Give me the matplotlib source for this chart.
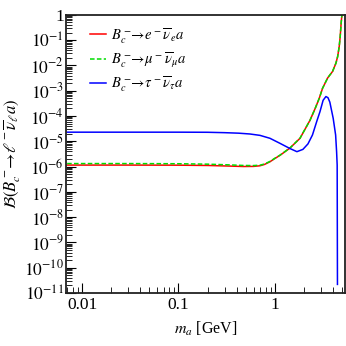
import numpy as np
import matplotlib
matplotlib.use("Agg")
import matplotlib.pyplot as plt
from matplotlib.ticker import FixedLocator, FuncFormatter, LogLocator, NullFormatter

plt.rcParams['font.family'] = ['Liberation Serif', 'DejaVu Serif']
plt.rcParams['mathtext.fontset'] = 'stix'

# m_a [GeV]
x_e = [0.007, 0.01, 0.03, 0.1, 0.2, 0.34, 0.47, 0.6, 0.70, 0.78, 0.887, 1.0, 1.13, 1.43, 1.82,
       2.31, 2.6, 2.88, 3.12, 3.52, 3.96, 4.29, 4.47, 4.64, 4.75, 4.86, 4.95, 5.0]
y_e = [1.15e-6, 1.15e-6, 1.15e-6, 1.14e-6, 1.11e-6, 1.05e-6, 1.01e-6, 1.02e-6, 1.08e-6,
       1.22e-6, 1.55e-6, 2.1e-6, 2.8e-6, 5.4e-6, 1.32e-5, 6.8e-5, 1.9e-4, 5.0e-4, 1.26e-3,
       3.2e-3, 5.8e-3, 1.23e-2, 2.24e-2, 5.6e-2, 1.38e-1, 4.7e-1, 1.0, 1.6]
x_mu = x_e
y_mu = [1.32e-6, 1.32e-6, 1.32e-6, 1.3e-6, 1.25e-6, 1.17e-6, 1.11e-6, 1.1e-6, 1.14e-6,
        1.27e-6, 1.6e-6, 2.15e-6, 2.85e-6, 5.45e-6, 1.33e-5, 6.8e-5, 1.9e-4, 5.0e-4, 1.26e-3,
        3.2e-3, 5.8e-3, 1.23e-2, 2.24e-2, 5.6e-2, 1.38e-1, 4.7e-1, 1.0, 1.6]
x_tau = [0.007, 0.01, 0.03, 0.1, 0.2, 0.3, 0.42, 0.55, 0.70, 0.887, 1.13, 1.43, 1.69, 1.95,
         2.2, 2.45, 2.72, 2.93, 3.16, 3.38, 3.55, 3.71, 4.02, 4.26, 4.36, 4.42, 4.45]
y_tau = [2.3e-5, 2.3e-5, 2.3e-5, 2.3e-5, 2.28e-5, 2.2e-5, 2.1e-5, 1.95e-5, 1.72e-5, 1.32e-5,
         8.3e-6, 5.2e-6, 3.9e-6, 4.8e-6, 7.9e-6, 1.78e-5, 6.3e-5, 1.48e-4, 4.2e-4, 5.9e-4,
         5.3e-4, 3.55e-4, 8.1e-5, 1.78e-5, 3.9e-6, 1.15e-6, 2.2e-11]

labels = [r'$B_c^-\!\!\to\! e^-\overline{\nu}_e a$',
          r'$B_c^-\!\!\to\!\mu^-\overline{\nu}_\mu a$',
          r'$B_c^-\!\!\to\!\tau^-\overline{\nu}_\tau a$']

fig = plt.figure(figsize=(3.46, 3.46), dpi=100)
ax = fig.add_axes([0.191, 0.153, 0.805, 0.804])

ax.plot(x_e, y_e, color='#ff0000', lw=1.1, label=labels[0])
ax.plot(x_mu, y_mu, color='#00dd00', lw=1.1, ls=(0, (3, 1.5)), label=labels[1])
ax.plot(x_tau, y_tau, color='#0000ff', lw=1.1, label=labels[2])

ax.set_xscale('log')
ax.set_yscale('log')
ax.set_xlim(0.00683, 5.28)
ax.set_ylim(1e-11, 1)

ax.xaxis.set_major_locator(FixedLocator([0.01, 0.1, 1]))
ax.xaxis.set_major_formatter(FuncFormatter(lambda v, p: {0.01: '0.01', 0.1: '0.1', 1: '1'}.get(round(v, 2), '')))
ax.xaxis.set_minor_locator(LogLocator(base=10, subs=np.arange(2, 10)))
ax.xaxis.set_minor_formatter(NullFormatter())

yt = [10.0**k for k in range(-11, 1)]
ax.yaxis.set_major_locator(FixedLocator(yt))
def yfmt(v, p):
    k = int(round(np.log10(v)))
    return '1' if k == 0 else r'$10^{%d}$' % k
ax.yaxis.set_major_formatter(FuncFormatter(yfmt))
ax.yaxis.set_minor_locator(LogLocator(base=10, subs=np.arange(2, 10), numticks=50))
ax.yaxis.set_minor_formatter(NullFormatter())

ax.tick_params(which='both', direction='in', top=False, right=False, labelsize=12.5)
ax.tick_params(which='major', length=7, width=0.8)
ax.tick_params(which='minor', length=4, width=0.6)
ax.tick_params(axis='y', which='major', pad=1.5)
ax.tick_params(axis='x', which='major', pad=3)

for s in ax.spines.values():
    s.set_linewidth(1.3)
    s.set_color('#222222')

ax.set_xlabel(r'$m_a$ [GeV]', fontsize=11.5, labelpad=5)
ax.set_ylabel(r'$\mathcal{B}(B_c^-\!\!\to\!\ell^-\overline{\nu}_\ell a)$', fontsize=12, labelpad=1)

ax.legend(loc='upper left', frameon=False, fontsize=10.5, handlelength=1.05, handletextpad=0.35,
          borderaxespad=0.0, labelspacing=0.3, bbox_to_anchor=(0.066, 0.9815))

fig.savefig('out.png', dpi=100)
